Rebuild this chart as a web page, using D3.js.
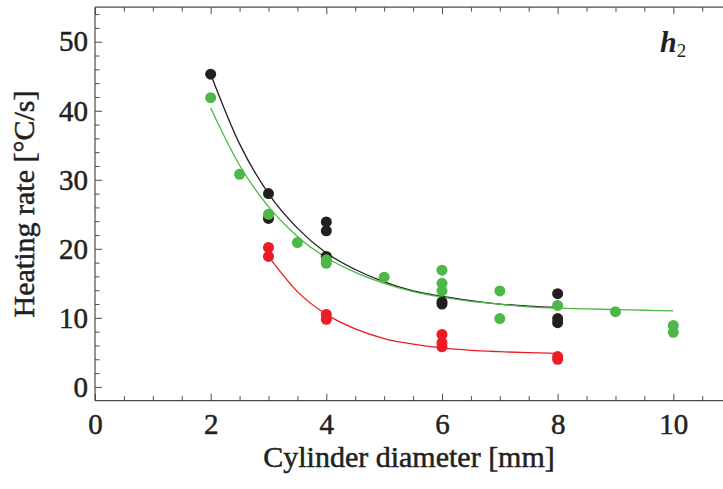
<!DOCTYPE html>
<html><head><meta charset="utf-8">
<script src="https://cdn.jsdelivr.net/npm/d3@7"></script>
<style>body{margin:0;background:#fff;}svg{display:block;}</style>
</head><body>
<script>
// Measured points
const blackX = [2, 3, 3, 4, 4, 4, 6, 6, 8, 8, 8];
const blackY = [45.3, 28.0, 24.4, 23.9, 22.6, 18.9, 12.3, 12.0, 13.5, 9.9, 9.3];
const greenX = [2, 2.5, 3, 3.5, 4, 4, 5, 6, 6, 6, 7, 7, 8, 9, 10, 10];
const greenY = [41.9, 30.8, 25.0, 20.9, 18.4, 17.9, 15.9, 16.9, 15.0, 13.9, 13.9, 9.9, 11.8, 10.9, 8.9, 7.9];
const redX = [3, 3, 4, 4, 6, 6, 6, 8, 8];
const redY = [20.2, 18.9, 10.5, 9.8, 7.6, 6.4, 5.8, 4.4, 4.0];
// Fitted curves
const blackCurveX = [2, 2.5, 3, 3.5, 4, 4.5, 5, 5.5, 6, 6.5, 7, 7.5, 8];
const blackCurveY = [45.3, 35.2, 28.0, 23.0, 19.4, 17.0, 15.2, 13.9, 13.1, 12.5, 12.0, 11.7, 11.5];
const greenCurveX = [2, 2.5, 3, 3.5, 4, 4.5, 5, 5.5, 6, 6.5, 7, 7.5, 8, 8.5, 9, 9.5, 10];
const greenCurveY = [40.4, 32.1, 26.1, 21.8, 18.7, 16.6, 15.0, 13.8, 13.0, 12.4, 12.0, 11.6, 11.4, 11.3, 11.2, 11.1, 11.0];
const redCurveX = [3, 3.5, 4, 4.5, 5, 5.5, 6, 6.5, 7, 7.5, 8];
const redCurveY = [18.9, 13.8, 10.5, 8.4, 7.0, 6.2, 5.65, 5.3, 5.1, 4.95, 4.86];
// Ticks
const xMajor = [0, 2, 4, 6, 8, 10];
const xMinor = d3.range(0, 11.01, 0.5).filter(v => v % 2 !== 0);
const yMajor = [0, 10, 20, 30, 40, 50];
const yMinor = d3.range(2, 55, 2).filter(v => v % 10 !== 0);
const xTitle = "Cylinder diameter [mm]";
const yTitle = "Heating rate [°C/s]";

const W = 723, H = 489;
const colBlack = "#231f20", colGreen = "#4db848", colRed = "#ed1c24";
const axisCol = "#4a4a4a";
const font = "'Liberation Serif','Times New Roman',serif";

const x = d3.scaleLinear().domain([0, 11]).range([95, 95 + 11 * 57.83]);
const y = d3.scaleLinear().domain([-2, 55]).range([400.7, 7.2]);

const svg = d3.select("body").append("svg").attr("width", W).attr("height", H);

// frame lines
svg.append("line").attr("x1", x(0)).attr("x2", x(11)).attr("y1", y(-2)).attr("y2", y(-2)).attr("stroke", axisCol).attr("stroke-width", 1.2);
svg.append("line").attr("x1", x(0)).attr("x2", x(11)).attr("y1", y(55)).attr("y2", y(55)).attr("stroke", axisCol).attr("stroke-width", 1.2);
svg.append("line").attr("x1", x(0)).attr("x2", x(0)).attr("y1", y(-2)).attr("y2", y(55)).attr("stroke", axisCol).attr("stroke-width", 1.2);

function styleAxis(g) {
  g.attr("font-family", null).attr("font-size", null);
  g.select(".domain").remove();
  g.selectAll(".tick line").attr("stroke", axisCol).attr("stroke-width", 1);
  g.selectAll("text").attr("font-family", font).attr("font-size", 29).attr("fill", colBlack)
    .attr("stroke", colBlack).attr("stroke-width", 0.5);
}

// bottom
svg.append("g").attr("transform", `translate(0,${y(-2)})`)
  .call(d3.axisBottom(x).tickValues(xMajor).tickFormat(d3.format("d")).tickSizeInner(-7).tickSizeOuter(0).tickPadding(13))
  .call(styleAxis);
svg.append("g").attr("transform", `translate(0,${y(-2)})`)
  .call(d3.axisBottom(x).tickValues(xMinor).tickFormat("").tickSizeInner(-4.5).tickSizeOuter(0))
  .call(styleAxis);
// top
svg.append("g").attr("transform", `translate(0,${y(55)})`)
  .call(d3.axisTop(x).tickValues(xMajor).tickFormat("").tickSizeInner(-7).tickSizeOuter(0))
  .call(styleAxis);
svg.append("g").attr("transform", `translate(0,${y(55)})`)
  .call(d3.axisTop(x).tickValues(xMinor).tickFormat("").tickSizeInner(-4.5).tickSizeOuter(0))
  .call(styleAxis);
// left
svg.append("g").attr("transform", `translate(${x(0)},0)`)
  .call(d3.axisLeft(y).tickValues(yMajor).tickFormat(d3.format("d")).tickSizeInner(-7).tickSizeOuter(0).tickPadding(7))
  .call(styleAxis);
svg.append("g").attr("transform", `translate(${x(0)},0)`)
  .call(d3.axisLeft(y).tickValues(yMinor).tickFormat("").tickSizeInner(-4.5).tickSizeOuter(0))
  .call(styleAxis);

// titles
svg.append("text").attr("x", 409).attr("y", 467).attr("text-anchor", "middle")
  .attr("font-family", font).attr("font-size", 30).attr("fill", colBlack)
  .attr("stroke", colBlack).attr("stroke-width", 0.5).text(xTitle);
svg.append("text").attr("transform", "translate(34,204) rotate(-90)").attr("text-anchor", "middle")
  .attr("font-family", font).attr("font-size", 30).attr("fill", colBlack)
  .attr("stroke", colBlack).attr("stroke-width", 0.5).text(yTitle);

// h2 label
const lab = svg.append("text").attr("x", 660).attr("y", 52)
  .attr("font-family", font).attr("font-size", 30).attr("font-style", "italic").attr("font-weight", "bold").attr("fill", colBlack);
lab.append("tspan").text("h");
lab.append("tspan").attr("dy", 5).attr("font-size", 19).attr("font-style", "normal").attr("font-weight", "normal").text("2");

// curves
const line = d3.line().x(d => x(d[0])).y(d => y(d[1])).curve(d3.curveMonotoneX);
function drawCurve(xs, ys, col) {
  svg.append("path").datum(xs.map((v, i) => [v, ys[i]])).attr("d", line)
    .attr("fill", "none").attr("stroke", col).attr("stroke-width", 1.3);
}
drawCurve(blackCurveX, blackCurveY, colBlack);
drawCurve(greenCurveX, greenCurveY, colGreen);
drawCurve(redCurveX, redCurveY, colRed);

// points
function drawPts(xs, ys, col) {
  svg.append("g").selectAll("circle").data(xs.map((v, i) => [v, ys[i]])).join("circle")
    .attr("cx", d => x(d[0])).attr("cy", d => y(d[1])).attr("r", 5.5).attr("fill", col);
}
drawPts(blackX, blackY, colBlack);
drawPts(redX, redY, colRed);
drawPts(greenX, greenY, colGreen);
</script>
</body></html>
